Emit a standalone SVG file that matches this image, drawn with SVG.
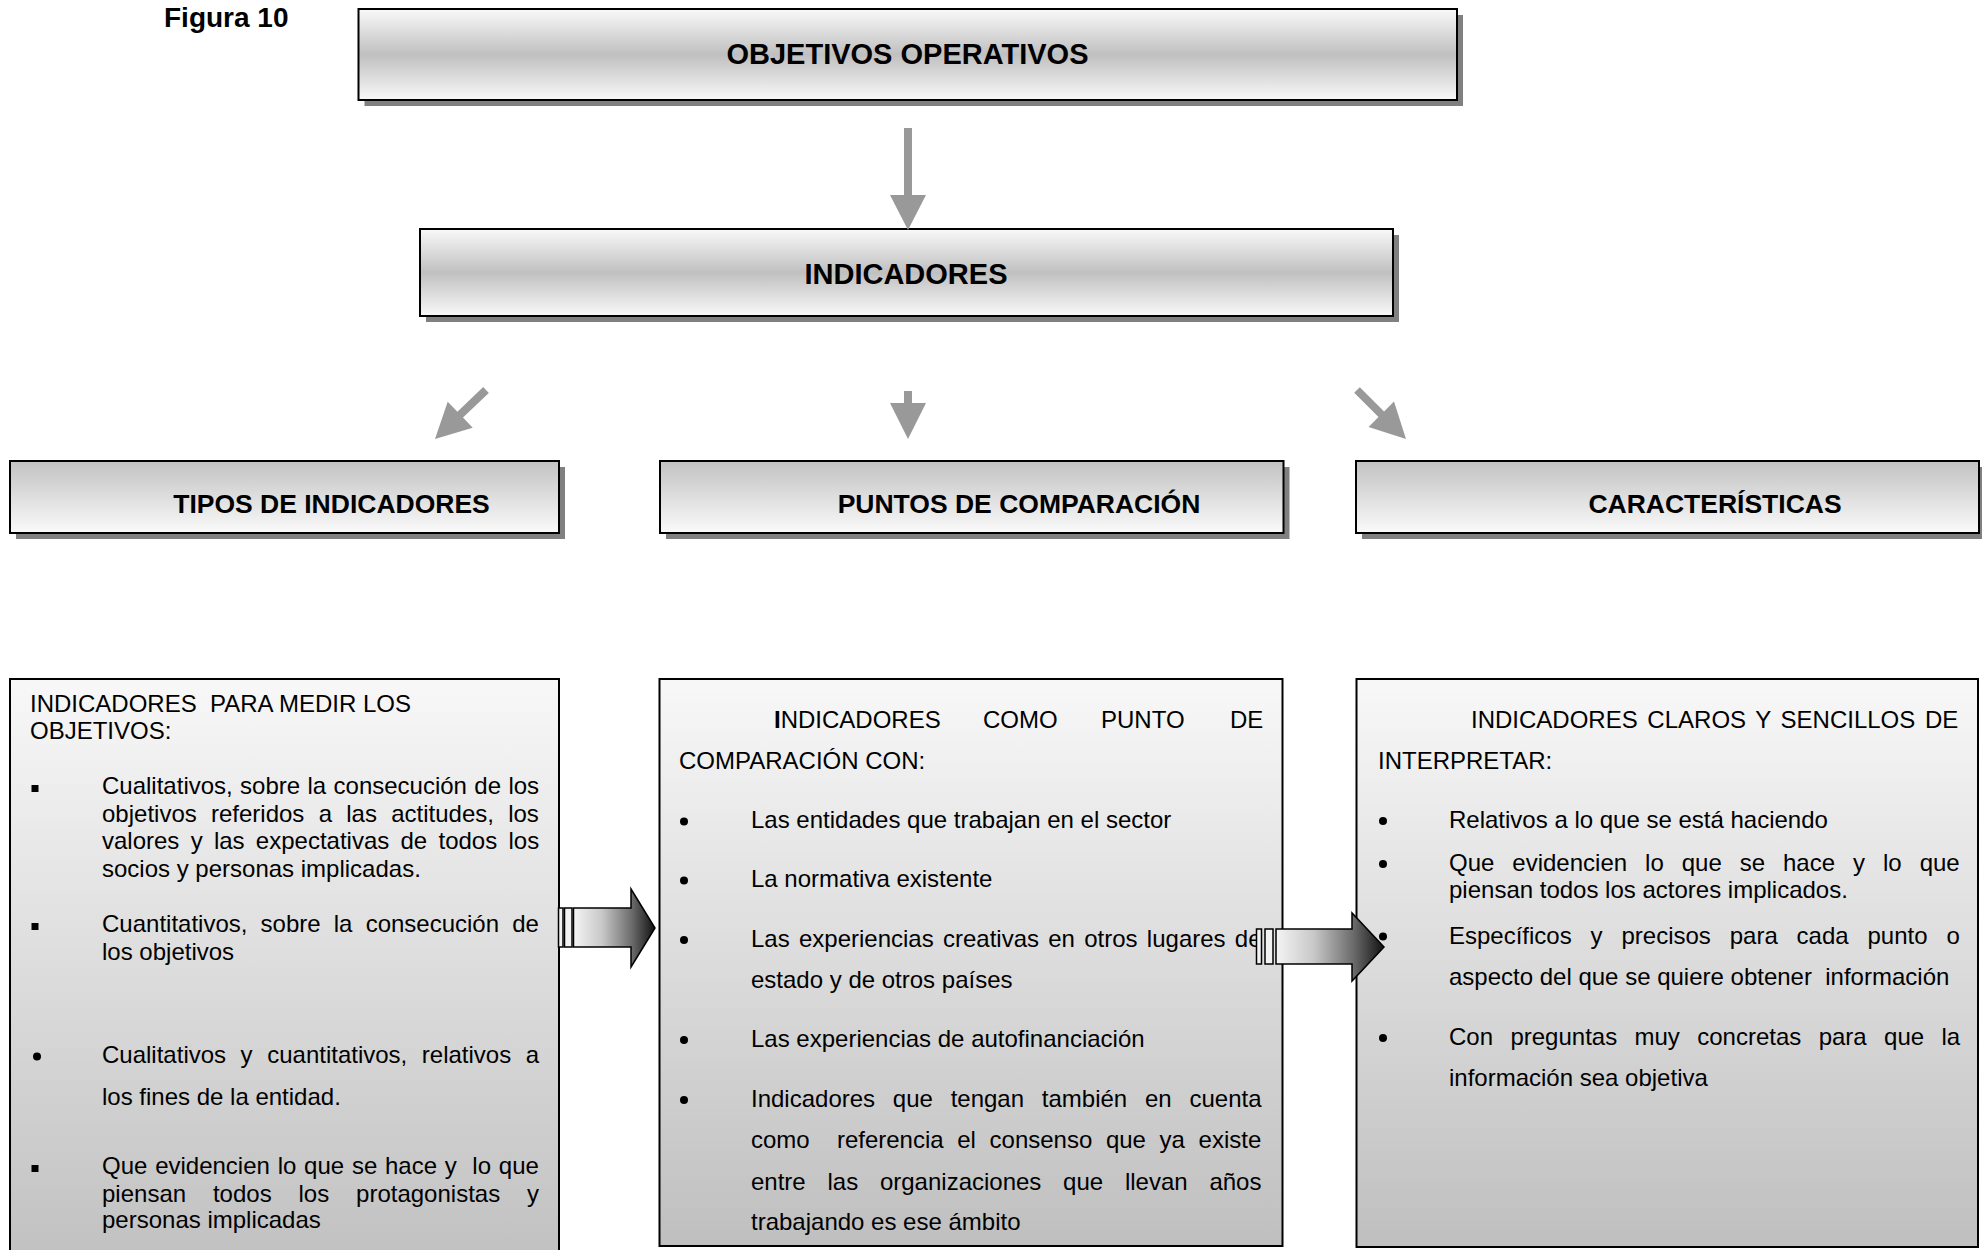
<svg xmlns="http://www.w3.org/2000/svg" width="1982" height="1250" viewBox="0 0 1982 1250">
<style>
text{font-family:"Liberation Sans",Arial,Helvetica,sans-serif;fill:#000}
.t{font-size:24px}
.h1{font-size:29px;font-weight:bold;text-anchor:middle}
.h2{font-size:26.5px;font-weight:bold;text-anchor:middle}
.box{stroke:#000;stroke-width:2}
.shadow{fill:#808080}
.garrow{fill:#999999}
.strip{fill:#f2f2f2;stroke:#000;stroke-width:1.5}
.barrow{stroke:#000;stroke-width:1.5}
.bul{fill:#000}
</style>
<defs>
<linearGradient id="gTop" x1="0" y1="0" x2="0" y2="1">
<stop offset="0" stop-color="#f9f9f9"/><stop offset="0.5" stop-color="#c0c0c0"/><stop offset="1" stop-color="#f9f9f9"/>
</linearGradient>
<linearGradient id="gRow" x1="0" y1="0" x2="0" y2="1">
<stop offset="0" stop-color="#c2c2c2"/><stop offset="1" stop-color="#fafafa"/>
</linearGradient>
<linearGradient id="gBot" x1="0" y1="0" x2="0" y2="1">
<stop offset="0" stop-color="#f8f8f8"/><stop offset="1" stop-color="#bfbfbf"/>
</linearGradient>
<linearGradient id="gBlock" x1="0" y1="0" x2="1" y2="0">
<stop offset="0" stop-color="#f4f4f4"/><stop offset="0.35" stop-color="#c8c8c8"/><stop offset="0.72" stop-color="#6a6a6a"/><stop offset="1" stop-color="#111"/>
</linearGradient>
</defs>
<rect width="1982" height="1250" fill="#fff"/>

<text x="164" y="27" style="font-size:28px;font-weight:bold">Figura 10</text>

<g id="node-objetivos">
<rect class="shadow" x="364.5" y="15" width="1098.5" height="91"/>
<rect class="box" x="358.5" y="9" width="1098.5" height="91" fill="url(#gTop)"/>
<text class="h1" x="907.5" y="63.5">OBJETIVOS OPERATIVOS</text>
</g>

<g id="node-indicadores">
<rect class="shadow" x="426" y="235" width="973" height="87"/>
<rect class="box" x="420" y="229" width="973" height="87" fill="url(#gTop)"/>
<text class="h1" x="906" y="284">INDICADORES</text>
</g>

<g id="node-tipos">
<rect class="shadow" x="16" y="467" width="549" height="72"/>
<rect class="box" x="10" y="461" width="549" height="72" fill="url(#gRow)"/>
<text class="h2" x="331.5" y="513">TIPOS DE INDICADORES</text>
</g>

<g id="node-puntos">
<rect class="shadow" x="666" y="467" width="623.5" height="72"/>
<rect class="box" x="660" y="461" width="623.5" height="72" fill="url(#gRow)"/>
<text class="h2" x="1019" y="513">PUNTOS DE COMPARACIÓN</text>
</g>

<g id="node-caracteristicas">
<rect class="shadow" x="1362" y="467" width="623" height="72"/>
<rect class="box" x="1356" y="461" width="623" height="72" fill="url(#gRow)"/>
<text class="h2" x="1715" y="513">CARACTERÍSTICAS</text>
</g>

<g id="node-tipos-detalle">
<rect class="box" x="10" y="679" width="549" height="600" fill="url(#gBot)"/>
<text class="t" x="30" y="712" xml:space="preserve">INDICADORES  PARA MEDIR LOS</text>
<text class="t" x="30" y="739">OBJETIVOS:</text>
<rect class="bul" x="31.5" y="785" width="7" height="7"/>
<text class="t" x="102" y="794" style="word-spacing:0.7px">Cualitativos, sobre la consecución de los</text>
<text class="t" x="102" y="822" style="word-spacing:7.6px">objetivos referidos a las actitudes, los</text>
<text class="t" x="102" y="849" style="word-spacing:4.6px">valores y las expectativas de todos los</text>
<text class="t" x="102" y="877">socios y personas implicadas.</text>
<rect class="bul" x="31.5" y="923" width="7" height="7"/>
<text class="t" x="102" y="932" style="word-spacing:6.5px">Cuantitativos, sobre la consecución de</text>
<text class="t" x="102" y="960">los objetivos</text>
<circle class="bul" cx="37" cy="1056.5" r="4"/>
<text class="t" x="102" y="1063" style="word-spacing:7.9px">Cualitativos y cuantitativos, relativos a</text>
<text class="t" x="102" y="1105">los fines de la entidad.</text>
<rect class="bul" x="31.5" y="1165" width="7" height="7"/>
<text class="t" x="102" y="1174" style="word-spacing:1.1px" xml:space="preserve">Que evidencien lo que se hace y  lo que</text>
<text class="t" x="102" y="1201.5" style="word-spacing:20.2px">piensan todos los protagonistas y</text>
<text class="t" x="102" y="1228">personas implicadas</text>
</g>

<g id="node-puntos-detalle">
<rect class="box" x="659.5" y="679" width="623" height="567" fill="url(#gBot)"/>
<text class="t" x="774" y="728"><tspan font-weight="bold">I</tspan>NDICADORES</text>
<text class="t" x="983" y="728">COMO</text>
<text class="t" x="1101" y="728">PUNTO</text>
<text class="t" x="1230" y="728">DE</text>
<text class="t" x="679" y="768.5">COMPARACIÓN CON:</text>
<circle class="bul" cx="684" cy="821.5" r="4"/>
<text class="t" x="751" y="828">Las entidades que trabajan en el sector</text>
<circle class="bul" cx="684" cy="880.5" r="4"/>
<text class="t" x="751" y="887">La normativa existente</text>
<circle class="bul" cx="684" cy="940" r="4"/>
<text class="t" x="751" y="946.5" style="word-spacing:2.6px">Las experiencias creativas en otros lugares de</text>
<text class="t" x="751" y="987.5">estado y de otros países</text>
<circle class="bul" cx="684" cy="1040" r="4"/>
<text class="t" x="751" y="1046.5">Las experiencias de autofinanciación</text>
<circle class="bul" cx="684" cy="1100" r="4"/>
<text class="t" x="751" y="1106.5" style="word-spacing:11.1px">Indicadores que tengan también en cuenta</text>
<text class="t" x="751" y="1147.5" style="word-spacing:6.95px" xml:space="preserve">como  referencia el consenso que ya existe</text>
<text class="t" x="751" y="1189.5" style="word-spacing:15.1px">entre las organizaciones que llevan años</text>
<text class="t" x="751" y="1229.5">trabajando es ese ámbito</text>
</g>

<g id="node-caracteristicas-detalle">
<rect class="box" x="1356.5" y="679" width="621.5" height="568" fill="url(#gBot)"/>
<text class="t" x="1471" y="727.5" style="word-spacing:3px">INDICADORES CLAROS Y SENCILLOS DE</text>
<text class="t" x="1378" y="768.5">INTERPRETAR:</text>
<circle class="bul" cx="1383" cy="821" r="4"/>
<text class="t" x="1449" y="828">Relativos a lo que se está haciendo</text>
<circle class="bul" cx="1383" cy="864" r="4"/>
<text class="t" x="1449" y="871" style="word-spacing:11.3px">Que evidencien lo que se hace y lo que</text>
<text class="t" x="1449" y="898">piensan todos los actores implicados.</text>
<circle class="bul" cx="1383" cy="936.5" r="4"/>
<text class="t" x="1449" y="944" style="word-spacing:12.2px">Específicos y precisos para cada punto o</text>
<text class="t" x="1449" y="985" xml:space="preserve">aspecto del que se quiere obtener  información</text>
<circle class="bul" cx="1383" cy="1038" r="4"/>
<text class="t" x="1449" y="1045" style="word-spacing:10.7px">Con preguntas muy concretas para que la</text>
<text class="t" x="1449" y="1086">información sea objetiva</text>
</g>

<g id="connectors">
<polygon class="garrow" points="904,128 912,128 912,195 926,195 908,230 890,195 904,195"/>
<polygon class="garrow" points="488.8,392.9 463,417.6 472.7,427.7 435,439 447.7,401.7 457.4,411.8 483.2,387.1"/>
<polygon class="garrow" points="904,391 912,391 912,403 926,403 908,439 890,403 904,403"/>
<polygon class="garrow" points="1359.8,387.2 1384.1,411.5 1394,401.6 1406,439 1368.6,427 1378.5,417.1 1354.2,392.8"/>
<g id="block-arrow-1">
<rect class="strip" x="558.5" y="908" width="4.5" height="39"/>
<rect class="strip" x="564.5" y="908" width="7.5" height="39"/>
<polygon class="barrow" fill="url(#gBlock)" points="573.5,908 631,908 631,889 655,928 631,967 631,947 573.5,947"/>
</g>
<g id="block-arrow-2">
<rect class="strip" x="1256.5" y="929" width="5" height="35"/>
<rect class="strip" x="1265" y="929" width="8" height="35"/>
<polygon class="barrow" fill="url(#gBlock)" points="1276,929 1352,929 1352,913 1384,947 1352,981 1352,964 1276,964"/>
</g>
</g>
</svg>
